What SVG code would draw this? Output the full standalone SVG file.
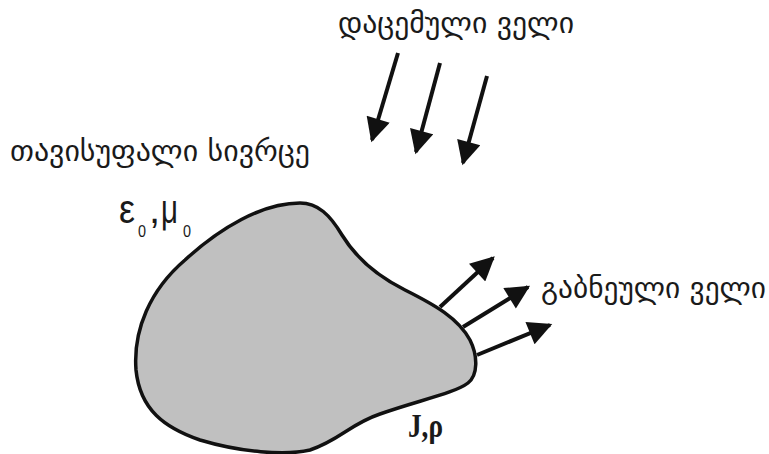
<svg xmlns="http://www.w3.org/2000/svg" width="769" height="454" viewBox="0 0 769 454">
<defs>
<marker id="ah" viewBox="0 0 10 10" refX="9" refY="5" markerWidth="26" markerHeight="24" markerUnits="userSpaceOnUse" orient="auto">
<path d="M0,0 L10,5 L0,10 Z" fill="#111"/>
</marker>
<style>
.geo{font-family:"DejaVu Sans","Noto Sans",sans-serif;font-size:29px;fill:#1a1a1a}
.arr{stroke:#111;stroke-width:4;fill:none;marker-end:url(#ah)}
.sym{font-family:"Liberation Sans",Arial,sans-serif;fill:#1a1a1a}
.sub{font-family:"Liberation Sans Narrow","Liberation Sans",sans-serif;fill:#1a1a1a;font-size:16px}
</style>
</defs>
<rect width="769" height="454" fill="#fff"/>
<g id="body">
<path d="M300,203 C318,203 330,215 342,235 C356,258 375,275 405,290 C435,305 458,318 470,340 C478,356 478,375 468,383 C455,393 420,400 380,414 C350,424 340,440 310,450 C285,456 240,452 200,440 C165,428 140,410 136,370 C133,330 150,290 185,260 C220,228 262,203 300,203 Z" fill="#c0c0c0" stroke="#111" stroke-width="3.5"/>
</g>
<g id="labels">
<text class="sym" x="119" y="223" font-size="40" textLength="16" lengthAdjust="spacingAndGlyphs">ε</text>
<text class="sub" x="138" y="237" textLength="8" lengthAdjust="spacingAndGlyphs">0</text>
<text class="sym" x="149" y="223" font-size="40">,</text>
<text class="sym" x="161" y="223" font-size="40" textLength="17" lengthAdjust="spacingAndGlyphs">μ</text>
<text class="sub" x="183" y="237" textLength="8" lengthAdjust="spacingAndGlyphs">0</text>
<text x="408" y="437" font-family="Liberation Serif,serif" font-weight="bold" font-size="34" fill="#1a1a1a" textLength="35" lengthAdjust="spacingAndGlyphs">J,ρ</text>
</g>
<g id="incident-label"><text class="geo" x="338" y="33" textLength="236" lengthAdjust="spacingAndGlyphs">დაცემული ველი</text></g>
<g id="free-space-label"><text class="geo" x="10" y="161" textLength="300" lengthAdjust="spacingAndGlyphs">თავისუფალი სივრცე</text></g>
<g id="scattered-label"><text class="geo" x="541" y="298" textLength="225" lengthAdjust="spacingAndGlyphs">გაბნეული ველი</text></g>
<g id="connectors">
<path class="arr" d="M398,53 L372,140"/>
<path class="arr" d="M440,63 L416,152"/>
<path class="arr" d="M487,76 L463,163"/>
<path class="arr" d="M440,307 L493,258"/>
<path class="arr" d="M463,327 L528,287"/>
<path class="arr" d="M477,355 L550,325"/>
</g>
</svg>
